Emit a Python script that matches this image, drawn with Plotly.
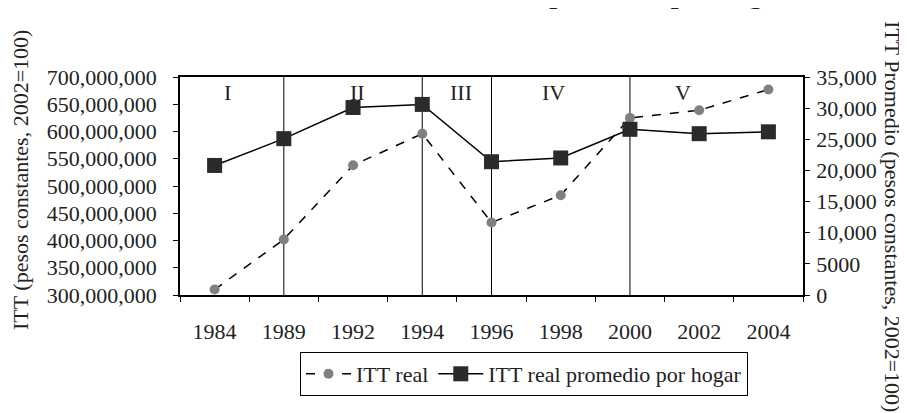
import plotly.graph_objects as go

years = ["1984", "1989", "1992", "1994", "1996", "1998", "2000", "2002", "2004"]
itt_real = [310e6, 402e6, 538e6, 596e6, 433e6, 483e6, 625e6, 639e6, 677e6]
itt_hogar = [20800, 25100, 30100, 30600, 21400, 22000, 26600, 25900, 26200]

left_ticks = [300e6, 350e6, 400e6, 450e6, 500e6, 550e6, 600e6, 650e6, 700e6]
right_ticks = [0, 5000, 10000, 15000, 20000, 25000, 30000, 35000]
right_ticktext = ["0", "5000", "10,000", "15,000", "20,000", "25,000", "30,000", "35,000"]

period_breaks = ["1989", "1994", "1996", "2000"]
period_labels = ["I", "II", "III", "IV", "V"]
period_label_pos = [0.19, 2.06, 3.56, 4.9, 6.77]

FONT = "Liberation Serif"
TXT = "#222"

idx = list(range(len(years)))
boundaries = [i - 0.5 for i in range(len(years) + 1)]

fig = go.Figure()
fig.add_trace(go.Scatter(
    x=idx, y=itt_real, name="ITT real", mode="lines+markers",
    line=dict(color="black", width=1.5, dash="dash"),
    marker=dict(symbol="circle", size=10, color="#808080"),
    yaxis="y",
))
fig.add_trace(go.Scatter(
    x=idx, y=itt_hogar, name="ITT real promedio por hogar", mode="lines+markers",
    line=dict(color="black", width=1.5),
    marker=dict(symbol="square", size=15, color="#2b2b2b"),
    yaxis="y2",
))

shapes = []
for b in period_breaks:
    xb = years.index(b)
    shapes.append(dict(type="line", xref="x", yref="paper", x0=xb, x1=xb, y0=0, y1=1,
                       line=dict(color="black", width=1), layer="below"))

annotations = []
for lab, pos in zip(period_labels, period_label_pos):
    annotations.append(dict(text=lab, x=pos, y=(287 - 84) / 218, xref="x", yref="paper",
                            xanchor="center", yanchor="middle",
                            showarrow=False, font=dict(family=FONT, size=22, color=TXT)))

annotations.append(dict(text="ITT (pesos constantes, 2002=100)", textangle=-90,
                        xref="paper", yref="paper", x=(12 - 172) / 623, y=(287 - 172) / 218,
                        xanchor="center", yanchor="middle",
                        showarrow=False, font=dict(family=FONT, size=22, color=TXT)))
annotations.append(dict(text="ITT Promedio (pesos constantes, 2002=100)", textangle=90,
                        xref="paper", yref="paper", x=(885 - 172) / 623, y=(287 - 208) / 218,
                        xanchor="center", yanchor="middle",
                        showarrow=False, font=dict(family=FONT, size=22, color=TXT)))
annotations.append(dict(text="<b>ITT real e ITT real promedio por hogar</b>",
                        xref="paper", yref="paper", x=(783 - 172) / 623, y=(287 - 3) / 218,
                        xanchor="right", yanchor="bottom",
                        showarrow=False, font=dict(family=FONT, size=28, color=TXT)))

fig.update_layout(
    width=907, height=413,
    margin=dict(l=172, r=112, t=69, b=126),
    paper_bgcolor="white", plot_bgcolor="white",
    font=dict(family=FONT, size=22, color=TXT),
    showlegend=True,
    legend=dict(orientation="h", x=(516 - 172) / 623, xanchor="center",
                y=(287 - 344) / 218, yanchor="top",
                bordercolor="black", borderwidth=1, font=dict(family=FONT, size=22, color=TXT),
                traceorder="normal", itemwidth=45),
    xaxis=dict(range=[-0.5, len(years) - 0.5], tickvals=idx, ticktext=years,
               showline=True, linecolor="black", linewidth=1.5, mirror=True,
               ticks="outside", ticklen=0, showgrid=False, zeroline=False,
               minor=dict(tickvals=boundaries, ticks="outside", ticklen=5, tickcolor="black",
                          showgrid=False),
               ticklabelstandoff=16, tickfont=dict(size=22), tickangle=0),
    yaxis=dict(range=[300e6, 700e6], tickvals=left_ticks, tickformat=",d",
               showline=True, linecolor="black", linewidth=1.5, ticks="outside", ticklen=5,
               tickcolor="black", showgrid=False, zeroline=False, ticklabelstandoff=12,
               tickfont=dict(size=22)),
    yaxis2=dict(range=[0, 35000], tickvals=right_ticks, ticktext=right_ticktext,
                overlaying="y", side="right", showline=True, linecolor="black", linewidth=1.5,
                ticks="outside", ticklen=5, tickcolor="black", showgrid=False, zeroline=False,
                ticklabelstandoff=2, tickfont=dict(size=22)),
    shapes=shapes,
    annotations=annotations,
)

fig.write_html("out.html")
